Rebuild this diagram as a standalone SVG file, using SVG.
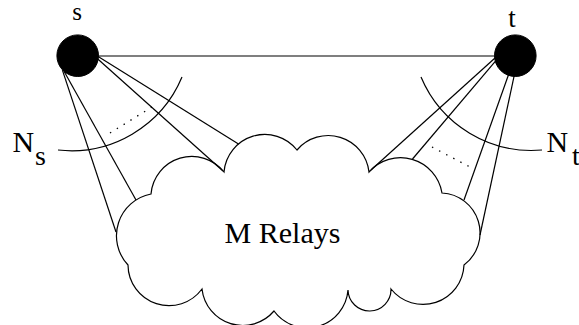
<svg xmlns="http://www.w3.org/2000/svg" width="579" height="325" viewBox="0 0 579 325">
<style>
.ln{stroke:#000;stroke-width:1.2;fill:none}
.dot{stroke:#000;stroke-width:1.3;fill:none;stroke-dasharray:1.4 6.6}
.nd{fill:#000;stroke:#000;stroke-width:1}
text{font-family:"Liberation Serif", "Times New Roman", serif;fill:#000}
</style>
<rect width="579" height="325" fill="#fff"/>
<g id="connectors">
<line class="ln" x1="98" y1="56" x2="495" y2="56"/>
<line class="ln" x1="62.4" y1="70.1" x2="116" y2="232"/>
<line class="ln" x1="64" y1="71.3" x2="136" y2="200"/>
<line class="ln" x1="97.5" y1="58.7" x2="223" y2="171"/>
<line class="ln" x1="97.3" y1="55.9" x2="238.5" y2="144"/>
<line class="ln" x1="495" y1="58" x2="371" y2="170"/>
<line class="ln" x1="495.9" y1="60.7" x2="412.5" y2="159"/>
<line class="ln" x1="508.6" y1="74.5" x2="464" y2="200"/>
<line class="ln" x1="514.4" y1="74.7" x2="480" y2="235"/>
<line class="dot" x1="110" y1="133" x2="152" y2="107"/>
<line class="dot" x1="432" y1="147" x2="470" y2="167"/>
</g>
<g id="Ns">
<path class="ln" d="M58,150 A120,120 0 0 0 182,77"/>
<text x="12.5" y="152" font-size="30">N</text>
<text x="35" y="165" font-size="28">s</text>
</g>
<g id="Nt">
<path class="ln" d="M421,77 A120,120 0 0 0 542,150"/>
<text x="546.5" y="152" font-size="30">N</text>
<text x="572" y="165" font-size="28">t</text>
</g>
<g id="relays">
<path class="ln" fill="#fff" d="M151,194 A41,41 0 0 1 224,172 A41,41 0 0 1 297,150 A41,41 0 0 1 369,172 A42,42 0 0 1 442,193 A40,40 0 0 1 464,265 A41,41 0 0 1 391,289 A21.5,21.5 0 0 1 348,290 A41,41 0 0 1 274,311 A41,41 0 0 1 202,289 A41,41 0 0 1 128,265 A42.6,42.6 0 0 1 151,194 Z"/>
<text x="282.5" y="243" font-size="30" text-anchor="middle">M Relays</text>
</g>
<g id="s">
<circle class="nd" cx="77.7" cy="55.7" r="20.8"/>
<text x="77" y="20" font-size="25" text-anchor="middle">s</text>
</g>
<g id="t">
<circle class="nd" cx="515.3" cy="55.7" r="20.8"/>
<text x="512" y="27" font-size="27" text-anchor="middle">t</text>
</g>
</svg>
